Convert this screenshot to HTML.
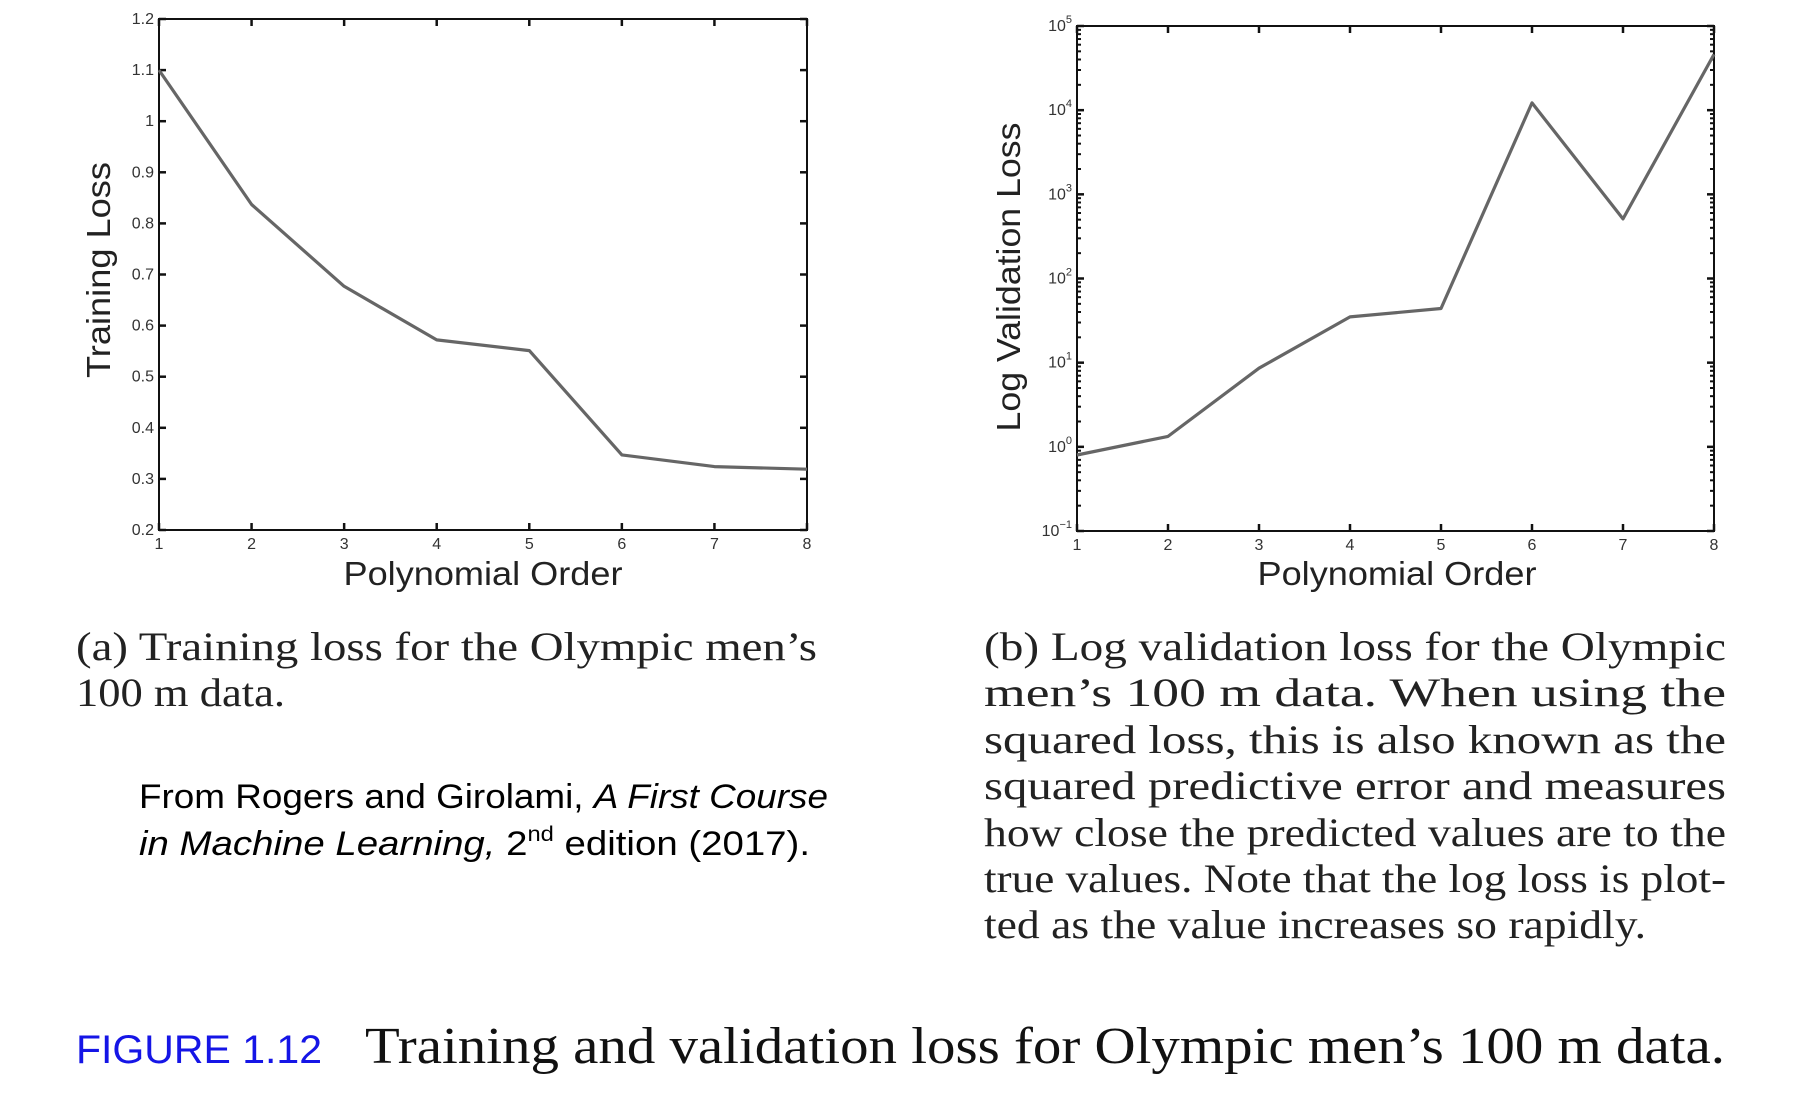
<!DOCTYPE html>
<html><head><meta charset="utf-8"><style>
html,body{margin:0;padding:0;background:#fff;width:1816px;height:1117px;overflow:hidden}
svg{display:block}
.tick{font-family:"Liberation Sans",sans-serif;font-size:16px;fill:#333}
.axl{font-family:"Liberation Sans",sans-serif;font-size:33px;fill:#222}
.cap{font-family:"Liberation Serif",serif;font-size:40px;fill:#222}
.cred{font-family:"Liberation Sans",sans-serif;font-size:34px;fill:#000}
</style></head><body>
<svg id="s" width="1816" height="1117" viewBox="0 0 1816 1117">
<g id="chartA"></g>
<g id="chartB"></g>
<text class="axl" transform="translate(110,270) rotate(-90)" text-anchor="middle" textLength="216" lengthAdjust="spacingAndGlyphs">Training Loss</text>
<text class="axl" x="483" y="585" text-anchor="middle" textLength="279" lengthAdjust="spacingAndGlyphs">Polynomial Order</text>
<text class="axl" transform="translate(1020,277) rotate(-90)" text-anchor="middle" textLength="309" lengthAdjust="spacingAndGlyphs">Log Validation Loss</text>
<text class="axl" x="1397" y="585" text-anchor="middle" textLength="279" lengthAdjust="spacingAndGlyphs">Polynomial Order</text>
<g>
<text class="cap" x="76" y="660" textLength="741" lengthAdjust="spacingAndGlyphs">(a) Training loss for the Olympic men’s</text>
<text class="cap" x="76" y="706" textLength="209" lengthAdjust="spacingAndGlyphs">100 m data.</text>
</g>
<g>
<text class="cap" x="984" y="660" textLength="742" lengthAdjust="spacingAndGlyphs">(b) Log validation loss for the Olympic</text>
<text class="cap" x="984" y="706" textLength="742" lengthAdjust="spacingAndGlyphs">men’s  100 m  data.  When  using  the</text>
<text class="cap" x="984" y="753" textLength="742" lengthAdjust="spacingAndGlyphs">squared loss, this is also known as the</text>
<text class="cap" x="984" y="799" textLength="742" lengthAdjust="spacingAndGlyphs">squared predictive error and measures</text>
<text class="cap" x="984" y="846" textLength="742" lengthAdjust="spacingAndGlyphs">how close the predicted values are to the</text>
<text class="cap" x="984" y="892" textLength="742" lengthAdjust="spacingAndGlyphs">true values. Note that the log loss is plot-</text>
<text class="cap" x="984" y="938" textLength="662" lengthAdjust="spacingAndGlyphs">ted as the value increases so rapidly.</text>
</g>
<g>
<text class="cred" x="139" y="808" textLength="689" lengthAdjust="spacingAndGlyphs">From Rogers and Girolami, <tspan font-style="italic">A First Course</tspan></text>
<text class="cred" x="139" y="855" textLength="671" lengthAdjust="spacingAndGlyphs"><tspan font-style="italic">in Machine Learning,</tspan> 2<tspan font-size="21" dy="-14">nd</tspan><tspan dy="14"> edition (2017).</tspan></text>
</g>
<g>
<text x="76" y="1063" font-family="Liberation Sans,sans-serif" font-size="40" fill="#1515e6" textLength="246" lengthAdjust="spacingAndGlyphs">FIGURE 1.12</text>
<text x="365" y="1063" font-family="Liberation Serif,serif" font-size="52" fill="#111" textLength="1360" lengthAdjust="spacingAndGlyphs">Training and validation loss for Olympic men’s 100 m data.</text>
</g>
</svg>
<script>
const orders=[1,2,3,4,5,6,7,8];
const trainLoss=[1.10,0.837,0.677,0.572,0.551,0.347,0.324,0.319];
const trainTicks=[0.2,0.3,0.4,0.5,0.6,0.7,0.8,0.9,1,1.1,1.2];
const valLoss=[0.80,1.33,8.6,35,44,12200,510,46000];
const valExps=[-1,0,1,2,3,4,5];
const NS='http://www.w3.org/2000/svg';
function mk(p,t,a){const e=document.createElementNS(NS,t);for(const k in a)e.setAttribute(k,a[k]);p.appendChild(e);return e;}
function chart(g,L,R,T,B,ys,vals,yticks,isLog){
  const xs=v=>L+(v-1)/7*(R-L);
  const frame=mk(g,'rect',{x:L,y:T,width:R-L,height:B-T,fill:'none',stroke:'#111','stroke-width':2});
  
  
  orders.forEach(o=>{
    const x=xs(o);
    mk(g,'line',{x1:x,x2:x,y1:B,y2:B-7,stroke:'#111','stroke-width':2.5});
    mk(g,'line',{x1:x,x2:x,y1:T,y2:T+7,stroke:'#111','stroke-width':2.5});
    const t=mk(g,'text',{x:x,y:B+19,'text-anchor':'middle',class:'tick'});t.textContent=o;
    
    
  });
  yticks.forEach(v=>{
    const y=ys(isLog?Math.pow(10,v):v);
    mk(g,'line',{x1:L,x2:L+7,y1:y,y2:y,stroke:'#111','stroke-width':2.5});
    mk(g,'line',{x1:R,x2:R-7,y1:y,y2:y,stroke:'#111','stroke-width':2.5});
    const t=mk(g,'text',{x:L-5,y:y+5,'text-anchor':'end',class:'tick'});
    if(isLog){t.textContent='10';const s=mk(t,'tspan',{'font-size':11,dy:-8});s.textContent=v===-1?'−1':v;}
    else t.textContent=v;
    
    
    if(isLog&&v<5){for(let m=2;m<10;m++){const yy=ys(m*Math.pow(10,v));
      mk(g,'line',{x1:L,x2:L+4,y1:yy,y2:yy,stroke:'#111','stroke-width':2});
      mk(g,'line',{x1:R,x2:R-4,y1:yy,y2:yy,stroke:'#111','stroke-width':2});}}
  });
  const d=vals.map((v,i)=>(i?'L':'M')+xs(orders[i]).toFixed(1)+','+ys(v).toFixed(1)).join(' ');
  const p=mk(g,'path',{d:d,fill:'none',stroke:'#666','stroke-width':3.2,'stroke-linejoin':'round'});
  
  
}
const gA=document.getElementById('chartA'),gB=document.getElementById('chartB');
chart(gA,159,807,19,530,v=>530-(v-0.2)/1.0*(530-19),trainLoss,trainTicks,false);
chart(gB,1077,1714,26,531,v=>531-(Math.log10(v)+1)/6*(531-26),valLoss,valExps,true);
</script>
</body></html>
